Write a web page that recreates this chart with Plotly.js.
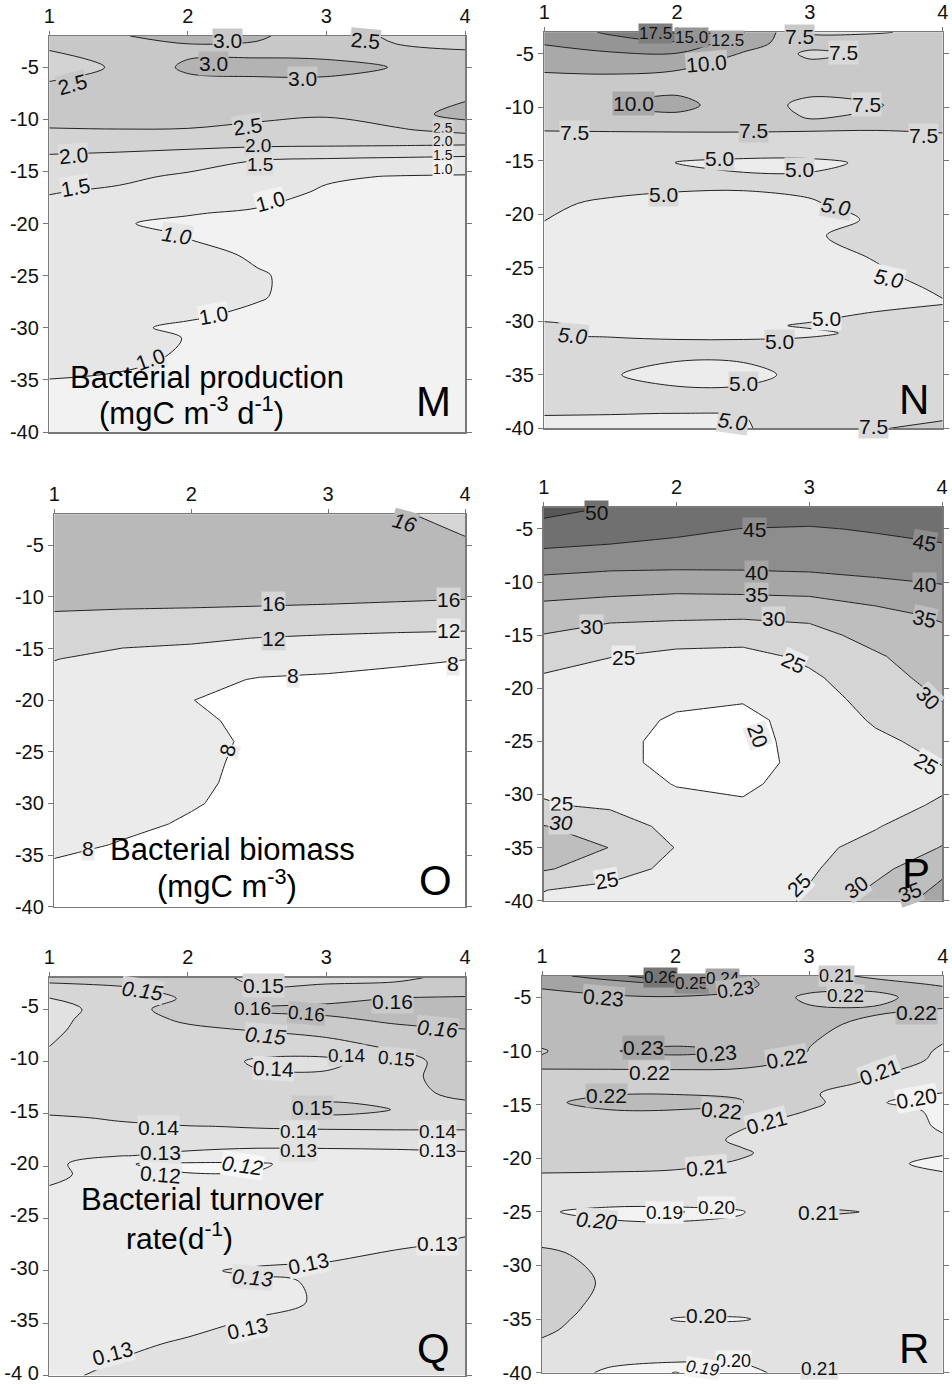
<!DOCTYPE html>
<html><head><meta charset="utf-8">
<script src="https://cdn.plot.ly/plotly-3.0.1.min.js"></script>
<style>html,body{margin:0;padding:0;background:#fff}</style>
</head><body><div id="chart" style="width:952px;height:1384px"></div>
<script>
// ---------------- data ----------------
const stations = [1, 1.5, 2, 2.5, 3, 3.5, 4];
const xTicks = [1, 2, 3, 4];
const depthTicks = [-5, -10, -15, -20, -25, -30, -35, -40];
const depthTickText = ['-5', '-10', '-15', '-20', '-25', '-30', '-35', '-40'];
const qDepthTickText = ['-5', '-10', '-15', '-20', '-25', '-30', '-35', '-4 0'];

// M: bacterial production (mgC m-3 d-1)
const mDepth = [-2, -3.5, -5, -6.5, -8, -9.5, -11, -12.5, -14, -15.5, -17, -19, -20, -21, -23, -25, -27, -29, -30, -31, -33, -35, -37.5, -40];
const mZ = [
  [2.75, 2.98, 3.10, 3.05, 2.80, 2.40, 2.35],
  [2.48, 2.70, 2.90, 2.90, 2.85, 2.60, 2.52],
  [2.30, 2.55, 3.10, 3.15, 3.15, 2.98, 2.70],
  [2.52, 2.65, 2.85, 2.90, 2.90, 2.80, 2.75],
  [2.70, 2.75, 2.80, 2.85, 2.85, 2.85, 2.95],
  [2.65, 2.70, 2.70, 2.60, 2.55, 2.75, 3.20],
  [2.48, 2.49, 2.48, 2.40, 2.30, 2.45, 2.65],
  [2.20, 2.15, 2.10, 2.05, 2.03, 2.01, 1.98],
  [1.85, 1.80, 1.70, 1.48, 1.40, 1.35, 1.30],
  [1.70, 1.60, 1.42, 1.25, 1.05, 0.98, 0.96],
  [1.52, 1.42, 1.30, 1.15, 0.95, 0.90, 0.88],
  [1.35, 1.25, 1.02, 0.95, 0.90, 0.85, 0.82],
  [1.30, 1.02, 0.94, 0.92, 0.88, 0.84, 0.80],
  [1.30, 1.15, 0.97, 0.95, 0.88, 0.84, 0.80],
  [1.28, 1.20, 1.10, 0.96, 0.90, 0.85, 0.80],
  [1.25, 1.20, 1.12, 1.025, 0.90, 0.85, 0.80],
  [1.22, 1.18, 1.10, 1.02, 0.90, 0.85, 0.80],
  [1.20, 1.12, 1.02, 0.95, 0.90, 0.85, 0.80],
  [1.20, 1.04, 0.96, 0.93, 0.89, 0.85, 0.80],
  [1.18, 1.10, 0.99, 0.95, 0.89, 0.85, 0.80],
  [1.12, 1.05, 0.97, 0.93, 0.88, 0.85, 0.80],
  [0.995, 0.97, 0.92, 0.90, 0.88, 0.85, 0.82],
  [0.90, 0.88, 0.86, 0.86, 0.85, 0.84, 0.82],
  [0.85, 0.84, 0.83, 0.83, 0.82, 0.82, 0.80]
];

// N
const nDepth = [-3, -4, -5, -6.5, -8, -9.8, -10.8, -11.5, -12.5, -14, -15.2, -16.3, -17.5, -19, -20.5, -22, -24, -25.5, -27, -28.3, -29.5, -30.4, -31.1, -32, -33, -35, -36.5, -38, -39.2, -40];
const nZ = [
  [13.0, 15.5, 17.8, 12.6, 7.3, 7.4, 7.8],
  [12.6, 13.5, 14.5, 11.0, 8.5, 8.2, 8.2],
  [12.0, 12.3, 12.4, 9.8, 7.0, 7.9, 8.5],
  [10.2, 10.3, 10.05, 9.0, 8.5, 8.5, 8.5],
  [9.0, 9.2, 9.2, 9.0, 8.2, 8.2, 8.2],
  [8.8, 9.95, 10.8, 8.5, 7.0, 7.4, 8.3],
  [8.4, 9.0, 9.6, 8.6, 7.3, 7.7, 8.1],
  [8.0, 8.2, 8.4, 8.2, 7.8, 7.9, 8.0],
  [7.3, 7.3, 7.3, 7.35, 7.4, 7.3, 7.45],
  [6.5, 6.3, 6.0, 5.8, 5.8, 6.0, 6.3],
  [6.2, 5.8, 4.95, 4.6, 4.6, 5.3, 5.8],
  [6.0, 5.8, 5.4, 5.1, 5.1, 5.5, 5.8],
  [5.8, 5.5, 5.15, 5.1, 5.2, 5.6, 6.0],
  [5.3, 4.7, 4.6, 4.6, 4.9, 5.4, 5.8],
  [5.02, 4.6, 4.5, 4.5, 4.7, 5.1, 5.6],
  [4.8, 4.5, 4.4, 4.4, 4.9, 5.3, 5.6],
  [4.8, 4.5, 4.4, 4.5, 4.7, 5.05, 5.5],
  [4.8, 4.5, 4.4, 4.5, 4.8, 4.9, 5.3],
  [4.8, 4.5, 4.4, 4.5, 4.6, 4.7, 5.1],
  [4.8, 4.5, 4.4, 4.5, 4.6, 4.7, 4.95],
  [4.85, 4.6, 4.5, 4.6, 4.8, 5.15, 5.4],
  [5.1, 4.8, 4.6, 4.8, 5.1, 5.3, 5.5],
  [5.05, 4.85, 4.8, 4.8, 4.85, 5.2, 5.4],
  [5.5, 5.2, 5.1, 5.1, 5.2, 5.5, 5.6],
  [5.6, 5.3, 5.3, 5.3, 5.3, 5.6, 5.8],
  [5.6, 5.1, 4.5, 4.6, 5.4, 5.7, 5.9],
  [5.5, 5.3, 5.2, 5.2, 5.4, 5.7, 6.0],
  [5.2, 5.15, 5.1, 5.1, 5.5, 6.5, 7.0],
  [4.9, 4.9, 4.9, 4.95, 5.6, 7.2, 7.45],
  [4.7, 4.7, 4.8, 4.9, 5.6, 7.4, 7.9]
];

// O: bacterial biomass (mgC m-3)
const oDepth = [-2, -4, -6, -8, -10, -12, -14, -16, -18, -20, -22, -24, -26, -28, -30, -32, -34, -36, -38, -40];
const oZ = [
  [20, 20, 20, 19.5, 18.5, 16.5, 14.5],
  [20, 20, 19.8, 19.5, 19, 18, 15.9],
  [20, 20, 19.5, 19.5, 19, 18.5, 17.5],
  [19, 19, 19, 18.8, 18.5, 18, 17.5],
  [17.2, 17.0, 16.9, 16.8, 16.6, 16.4, 16.2],
  [15.5, 15.3, 15.2, 15.0, 14.9, 14.7, 14.5],
  [13.0, 12.9, 12.6, 11.9, 11.4, 11.0, 10.7],
  [12.1, 11.0, 10.5, 9.6, 9.0, 8.4, 8.05],
  [11.0, 10.0, 8.8, 7.8, 7.6, 7.4, 7.0],
  [10.5, 9.5, 8.02, 7.6, 7.3, 7.0, 6.8],
  [10.2, 9.4, 8.3, 7.6, 7.2, 7.0, 6.8],
  [10.0, 9.3, 8.5, 7.7, 7.2, 7.0, 6.8],
  [9.8, 9.2, 8.3, 7.7, 7.2, 7.0, 6.8],
  [9.5, 9.0, 8.2, 7.7, 7.2, 7.0, 6.8],
  [9.2, 8.8, 8.1, 7.6, 7.2, 7.0, 6.8],
  [8.9, 8.3, 7.85, 7.5, 7.2, 7.0, 6.8],
  [8.4, 7.9, 7.6, 7.4, 7.2, 7.0, 6.8],
  [7.8, 7.6, 7.4, 7.3, 7.1, 7.0, 6.8],
  [7.5, 7.4, 7.3, 7.2, 7.1, 7.0, 6.8],
  [7.3, 7.3, 7.2, 7.1, 7.0, 6.9, 6.8]
];

// P
const pDepth = [-3, -5, -7, -9, -11, -13, -15, -17, -19, -21, -23, -25, -27, -29, -31, -33, -35, -37, -39, -40];
const pZ = [
  [51.5, 49.8, 48.5, 48.5, 48.5, 48.0, 47.5],
  [48.5, 47.5, 46.0, 44.9, 44.5, 45.5, 46.3],
  [44.7, 44.0, 43.5, 43.0, 42.8, 43.0, 44.3],
  [40.8, 39.9, 39.7, 39.8, 40.1, 41.0, 41.8],
  [36.0, 35.8, 35.2, 35.4, 35.8, 37.5, 38.8],
  [33.5, 31.5, 31.0, 30.8, 31.2, 33.5, 36.0],
  [29.8, 28.0, 27.8, 27.6, 28.5, 31.5, 33.5],
  [27.0, 25.1, 23.5, 23.0, 26.2, 29.5, 32.5],
  [24.5, 23.5, 22.0, 21.5, 24.0, 28.5, 31.3],
  [23.5, 22.5, 20.8, 20.3, 22.5, 27.0, 30.2],
  [23.0, 21.5, 19.5, 19.0, 21.5, 25.6, 28.5],
  [23.0, 21.0, 19.0, 18.5, 21.5, 24.0, 26.5],
  [23.5, 21.0, 19.0, 18.5, 21.2, 23.2, 25.1],
  [24.3, 22.0, 19.8, 19.2, 21.8, 23.5, 24.5],
  [25.3, 24.3, 21.2, 20.5, 22.3, 23.8, 25.4],
  [30.2, 27.5, 23.5, 21.5, 23.0, 24.7, 28.0],
  [33.0, 29.9, 24.8, 22.0, 23.8, 26.5, 30.2],
  [30.5, 27.5, 23.5, 21.5, 24.3, 28.5, 34.0],
  [25.1, 23.5, 22.0, 21.0, 25.3, 31.0, 36.0],
  [24.5, 24.0, 21.5, 20.8, 26.0, 32.0, 37.0]
];

// Q: bacterial turnover rate (d-1)
const qDepth = [-2, -3, -4, -5, -6, -7, -8.5, -10, -11.5, -13, -14.6, -15.4, -16.2, -17.2, -18.2, -19, -19.8, -20.8, -22, -24, -26, -27.5, -29, -30, -31, -33, -35, -37, -39, -40];
const qZ = [
  [0.152, 0.154, 0.156, 0.147, 0.147, 0.148, 0.153],
  [0.148, 0.149, 0.153, 0.1505, 0.152, 0.153, 0.156],
  [0.1395, 0.145, 0.151, 0.153, 0.1575, 0.1605, 0.161],
  [0.136, 0.1445, 0.156, 0.162, 0.1625, 0.163, 0.164],
  [0.137, 0.1455, 0.1515, 0.1555, 0.1585, 0.1615, 0.165],
  [0.138, 0.146, 0.148, 0.1505, 0.155, 0.158, 0.1595],
  [0.1398, 0.1455, 0.146, 0.1435, 0.1445, 0.153, 0.157],
  [0.1435, 0.1455, 0.1445, 0.139, 0.1383, 0.1435, 0.158],
  [0.145, 0.146, 0.146, 0.1412, 0.1412, 0.146, 0.156],
  [0.144, 0.145, 0.145, 0.145, 0.147, 0.148, 0.1515],
  [0.1415, 0.1425, 0.1445, 0.147, 0.1525, 0.1498, 0.148],
  [0.1392, 0.1405, 0.1425, 0.1445, 0.1485, 0.146, 0.145],
  [0.1385, 0.1392, 0.1398, 0.1403, 0.1408, 0.141, 0.141],
  [0.1372, 0.1375, 0.1378, 0.1385, 0.138, 0.138, 0.138],
  [0.1355, 0.134, 0.1315, 0.1305, 0.1305, 0.1305, 0.1305],
  [0.134, 0.1305, 0.128, 0.126, 0.127, 0.1285, 0.1295],
  [0.1335, 0.1205, 0.1185, 0.119, 0.1235, 0.127, 0.1285],
  [0.1315, 0.127, 0.1203, 0.1205, 0.1245, 0.1275, 0.1285],
  [0.1298, 0.1275, 0.1255, 0.1255, 0.1265, 0.128, 0.1285],
  [0.128, 0.127, 0.1265, 0.1265, 0.127, 0.1285, 0.129],
  [0.1275, 0.127, 0.1265, 0.127, 0.1275, 0.129, 0.1295],
  [0.1275, 0.127, 0.1268, 0.1275, 0.1285, 0.1295, 0.1305],
  [0.1275, 0.127, 0.127, 0.128, 0.1298, 0.131, 0.1315],
  [0.1275, 0.127, 0.1285, 0.1315, 0.131, 0.1315, 0.132],
  [0.1275, 0.127, 0.1275, 0.1285, 0.131, 0.1315, 0.132],
  [0.1275, 0.1275, 0.128, 0.1288, 0.1305, 0.131, 0.132],
  [0.1275, 0.128, 0.129, 0.1305, 0.1315, 0.132, 0.1325],
  [0.1278, 0.1292, 0.1305, 0.1315, 0.132, 0.1325, 0.133],
  [0.1285, 0.1303, 0.131, 0.132, 0.1325, 0.133, 0.1335],
  [0.129, 0.131, 0.1315, 0.132, 0.1325, 0.133, 0.1335]
];

// R
const rDepth = [-3, -3.8, -5, -6.2, -7.5, -9, -10, -10.8, -11.8, -13, -14, -14.8, -15.6, -17, -18.3, -19.5, -20.5, -21.5, -23, -24.5, -25, -26, -27.5, -29, -31.5, -34, -35, -36, -37.5, -39, -40];
const rZ = [
  [0.236, 0.245, 0.262, 0.231, 0.222, 0.219, 0.2185],
  [0.232, 0.234, 0.236, 0.232, 0.224, 0.222, 0.2195],
  [0.226, 0.229, 0.2295, 0.228, 0.218, 0.2185, 0.223],
  [0.2255, 0.2265, 0.227, 0.2265, 0.2215, 0.2208, 0.2195],
  [0.2245, 0.2255, 0.226, 0.225, 0.2215, 0.2185, 0.2175],
  [0.223, 0.2255, 0.227, 0.2255, 0.2205, 0.2165, 0.2105],
  [0.219, 0.2295, 0.2325, 0.2295, 0.2198, 0.2155, 0.209],
  [0.2215, 0.2245, 0.227, 0.2245, 0.2185, 0.2145, 0.2085],
  [0.2198, 0.2195, 0.2195, 0.219, 0.2175, 0.2115, 0.207],
  [0.2185, 0.2192, 0.2192, 0.2185, 0.2135, 0.2085, 0.2045],
  [0.2195, 0.2195, 0.2198, 0.2195, 0.211, 0.205, 0.1995],
  [0.2185, 0.2225, 0.2228, 0.2202, 0.213, 0.2005, 0.1975],
  [0.219, 0.2195, 0.2195, 0.2185, 0.2095, 0.2035, 0.1985],
  [0.2185, 0.219, 0.2165, 0.2105, 0.207, 0.2025, 0.1995],
  [0.218, 0.2185, 0.2145, 0.2085, 0.2055, 0.202, 0.2005],
  [0.2175, 0.218, 0.216, 0.211, 0.205, 0.202, 0.2005],
  [0.2135, 0.2135, 0.212, 0.209, 0.2045, 0.2015, 0.1985],
  [0.2095, 0.209, 0.2085, 0.2075, 0.204, 0.202, 0.2005],
  [0.207, 0.2065, 0.2065, 0.2065, 0.2055, 0.2045, 0.204],
  [0.2015, 0.2005, 0.201, 0.2015, 0.2085, 0.204, 0.203],
  [0.2015, 0.196, 0.1885, 0.1995, 0.2115, 0.2095, 0.203],
  [0.2025, 0.2015, 0.2012, 0.2015, 0.2055, 0.204, 0.2035],
  [0.207, 0.2055, 0.204, 0.204, 0.2045, 0.204, 0.204],
  [0.2125, 0.2065, 0.2045, 0.2045, 0.2045, 0.204, 0.204],
  [0.216, 0.2085, 0.205, 0.2045, 0.2045, 0.204, 0.204],
  [0.2135, 0.2075, 0.2035, 0.2025, 0.204, 0.204, 0.204],
  [0.213, 0.206, 0.1995, 0.1995, 0.2035, 0.204, 0.204],
  [0.2115, 0.2055, 0.2025, 0.2025, 0.2035, 0.204, 0.204],
  [0.2085, 0.2045, 0.2015, 0.2015, 0.203, 0.2035, 0.204],
  [0.2065, 0.2015, 0.2002, 0.2003, 0.2025, 0.203, 0.2035],
  [0.2055, 0.1985, 0.1895, 0.1985, 0.2025, 0.2035, 0.2045]
];

// contour label texts: [text, px, py, angle, band, size]
const mLabels = [
  ['3.0', 227, 40, 0, 4], ['2.5', 365, 40, 5, 4], ['2.5', 72, 85, -15, 4],
  ['3.0', 213, 63, 0, 5], ['3.0', 302, 79, 0, 4], ['2.5', 247, 126, -8, 3],
  ['2.0', 258, 145, 0, 3, 19], ['2.0', 73, 155, -5, 2], ['1.5', 260, 165, 0, 2, 19],
  ['1.5', 75, 187, -10, 1], ['1.0', 270, 202, -15, 0], ['<i>1.0</i>', 177, 235, 8, 1],
  ['1.0', 213, 315, -10, 0], ['1.0', 150, 360, -20, 1],
  ['2.5', 443, 128, 0, 3, 14], ['2.0', 443, 141, 0, 2, 14], ['1.5', 443, 155, 0, 1, 14], ['1.0', 443, 169, 0, 0, 14]
];
const nLabels = [
  ['17.5', 655, 34, 0, 5, 17], ['15.0', 691, 38, 0, 4, 17], ['12.5', 727, 40, 0, 3, 17],
  ['10.0', 706, 63, -5, 2], ['7.5', 799, 36, 0, 2], ['7.5', 843, 53, 0, 1],
  ['10.0', 633, 103, 0, 3], ['7.5', 866, 104, 0, 1], ['7.5', 574, 133, 0, 1],
  ['7.5', 753, 130, 0, 2], ['7.5', 923, 135, 0, 1], ['5.0', 719, 159, 0, 1],
  ['5.0', 799, 170, 0, 1], ['5.0', 663, 195, 0, 1], ['<i>5.0</i>', 836, 207, 10, 1],
  ['<i>5.0</i>', 889, 278, 12, 0], ['5.0', 826, 318, 0, 0], ['<i>5.0</i>', 573, 335, 5, 1],
  ['5.0', 779, 342, 0, 1], ['5.0', 743, 383, 0, 1], ['<i>5.0</i>', 733, 421, 8, 1],
  ['7.5', 873, 427, 0, 1]
];
const oLabels = [
  ['<i>16</i>', 405, 522, 15, 3], ['16', 273, 603, 0, 2], ['16', 448, 600, 0, 2],
  ['12', 273, 638, 0, 2], ['12', 448, 630, 0, 1], ['8', 293, 675, 0, 1],
  ['8', 453, 663, 0, 1], ['8', 227, 750, -75, 1], ['8', 88, 848, 0, 1]
];
const pLabels = [
  ['50', 596, 512, 0, 6], ['45', 754, 529, 0, 5], ['45', 924, 542, 10, 5],
  ['40', 756, 572, 0, 4], ['40', 924, 585, 0, 4], ['35', 756, 594, 0, 3],
  ['35', 924, 618, 12, 3], ['30', 591, 627, 0, 2], ['30', 773, 618, 0, 2],
  ['30', 928, 697, 45, 2], ['25', 623, 657, 0, 1], ['25', 793, 662, 25, 1],
  ['20', 758, 735, 70, 1], ['25', 926, 763, 30, 1], ['25', 561, 803, 0, 1],
  ['<i>30</i>', 561, 822, 0, 2], ['25', 606, 880, -10, 1], ['25', 798, 885, -45, 1],
  ['30', 856, 888, -35, 2], ['35', 909, 892, -20, 3]
];
const qLabels = [
  ['<i>0.15</i>', 142, 990, 8, 3], ['0.15', 263, 985, 0, 3], ['0.16', 252, 1008, 0, 4, 19],
  ['0.16', 306, 1014, 5, 5, 19], ['0.16', 392, 1001, 0, 4], ['<i>0.16</i>', 437, 1028, 5, 4],
  ['<i>0.15</i>', 265, 1035, 5, 3], ['0.14', 346, 1055, 0, 3, 19], ['0.15', 396, 1058, 5, 3, 19],
  ['0.14', 273, 1068, 3, 2], ['0.15', 312, 1107, 0, 4], ['0.14', 158, 1127, 0, 2],
  ['0.14', 298, 1131, 0, 2, 19], ['0.14', 437, 1131, 0, 2, 19], ['0.13', 160, 1152, 0, 2],
  ['0.13', 298, 1150, 0, 2, 19], ['0.13', 437, 1150, 0, 1, 19], ['<i>0.12</i>', 243, 1165, 8, 0],
  ['0.12', 160, 1174, 5, 1], ['0.13', 437, 1243, 0, 1], ['0.13', 308, 1263, -12, 1],
  ['<i>0.13</i>', 252, 1277, 5, 2], ['0.13', 247, 1328, -12, 1], ['0.13', 112, 1353, -15, 1]
];
const rLabels = [
  ['0.26', 660, 977, 0, 7, 17], ['0.25', 691, 983, 0, 6, 17], ['0.24', 722, 978, 0, 5, 17],
  ['0.23', 735, 989, -8, 4, 19], ['0.23', 603, 997, 5, 4], ['0.21', 836, 976, 0, 3, 18],
  ['0.22', 845, 995, 0, 3, 19], ['0.22', 916, 1012, 0, 4], ['0.23', 643, 1047, 0, 5],
  ['0.23', 716, 1053, -5, 4], ['0.22', 649, 1072, 0, 3], ['0.22', 786, 1058, -10, 3],
  ['0.21', 879, 1072, -20, 2], ['0.22', 606, 1095, 0, 4], ['0.22', 721, 1110, 5, 3],
  ['0.20', 916, 1098, -10, 1], ['0.21', 766, 1122, -15, 2], ['0.21', 706, 1167, -5, 2],
  ['<i>0.20</i>', 596, 1220, 5, 2], ['0.19', 664, 1212, 0, 1, 19], ['0.20', 716, 1207, 0, 1, 19],
  ['0.21', 818, 1212, 0, 2], ['0.20', 706, 1315, 0, 2], ['0.20', 733, 1361, 0, 1, 18],
  ['<i>0.19</i>', 703, 1368, 8, 1, 17], ['0.21', 819, 1368, 0, 2, 19]
];

// ---------------- drawing ----------------
const FONT = 'Liberation Sans, Arial, Helvetica, sans-serif';
const W = 952, H = 1384;

function panel(z, depth, n, levels, greys, smooth) {
  const k = greys.length - 1;
  return {
    type: 'contour', x: stations, y: depth, z: z,
    xaxis: 'x' + (n === 1 ? '' : n), yaxis: 'y' + (n === 1 ? '' : n),
    autocontour: false,
    contours: { start: levels[0], end: levels[1], size: levels[2], coloring: 'fill', showlabels: false },
    colorscale: greys.map((c, i) => [i / k, c]),
    line: { color: '#222', width: 1, smoothing: smooth },
    showscale: false, hoverinfo: 'skip'
  };
}

function box(l, r, t, b) {
  return { x: [l / W, r / W], y: [1 - b / H, 1 - t / H] };
}

function axes(n, bx, top, ytext, shift) {
  const s = n === 1 ? '' : n;
  const lay = {};
  lay['xaxis' + s] = {
    domain: bx.x, anchor: 'y' + s, side: 'top', range: [1, 4],
    tickvals: xTicks, ticks: 'outside', ticklen: 4, tickcolor: '#777',
    showline: true, linecolor: '#7a7a7a', linewidth: 1.5, mirror: true,
    showgrid: false, zeroline: false, automargin: false, fixedrange: true,
    ticklabeloverflow: 'allow',
    tickfont: { family: FONT, size: 20, color: '#111' }
  };
  lay['yaxis' + s] = {
    domain: bx.y, anchor: 'x' + s, range: [-40, top],
    tickvals: depthTicks, ticktext: ytext, ticks: 'outside', ticklen: 5, tickcolor: '#777',
    showline: true, linecolor: '#7a7a7a', linewidth: 1.5, mirror: 'ticks',
    showgrid: false, zeroline: false, automargin: false, fixedrange: true,
    ticklabeloverflow: 'allow', ticklabelshift: shift || 0,
    tickfont: { family: FONT, size: 20, color: '#111' }
  };
  return lay;
}

function note(text, px, py, size) {
  return { xref: 'paper', yref: 'paper', x: px / W, y: 1 - py / H,
    xanchor: 'center', yanchor: 'middle', text: text, showarrow: false,
    font: { family: FONT, size: size, color: '#000' } };
}

function labelNotes(list, greys) {
  return list.map(l => Object.assign(note(l[0], l[1], l[2], l[5] || 21), {
    textangle: l[3], bgcolor: greys[l[4]], borderpad: 0,
    font: { family: FONT, size: l[5] || 21, color: '#111' }
  }));
}

const greysM = ['#f2f2f2', '#e6e6e6', '#dddddd', '#d3d3d3', '#c8c8c8', '#b3b3b3'];
const greysN = ['#ececec', '#d9d9d9', '#c9c9c9', '#a9a9a9', '#959595', '#7e7e7e', '#676767'];
const greysO = ['#ffffff', '#ebebeb', '#d5d5d5', '#b9b9b9'];
const greysP = ['#ffffff', '#ececec', '#d5d5d5', '#bebebe', '#a6a6a6', '#8d8d8d', '#707070', '#575757'];
const greysQ = ['#f7f7f7', '#ebebeb', '#e1e1e1', '#d6d6d6', '#cacaca', '#bbbbbb'];
const greysR = ['#ffffff', '#f3f3f3', '#e2e2e2', '#cfcfcf', '#bbbbbb', '#a4a4a4', '#8d8d8d', '#767676', '#5f5f5f'];

const traces = [
  panel(mZ, mDepth, 1, [1.0, 3.0, 0.5], greysM, 1),
  panel(nZ, nDepth, 2, [5.0, 17.5, 2.5], greysN, 1),
  panel(oZ, oDepth, 3, [8, 16, 4], greysO, 0),
  panel(pZ, pDepth, 4, [20, 50, 5], greysP, 0),
  panel(qZ, qDepth, 5, [0.12, 0.16, 0.01], greysQ, 1),
  panel(rZ, rDepth, 6, [0.19, 0.26, 0.01], greysR, 1)
];

const annotations = [].concat(
  labelNotes(mLabels, greysM), labelNotes(nLabels, greysN), labelNotes(oLabels, greysO),
  labelNotes(pLabels, greysP), labelNotes(qLabels, greysQ), labelNotes(rLabels, greysR),
  [
    note('Bacterial production', 207, 377, 31),
    note('(mgC m<sup>-3</sup> d<sup>-1</sup>)', 191, 411, 31),
    note('M', 433, 401, 42),
    note('N', 914, 400, 42),
    note('Bacterial biomass', 232, 849, 31),
    note('(mgC m<sup>-3</sup>)', 227, 884, 31),
    note('O', 435, 880, 42),
    note('P', 916, 873, 42),
    note('Bacterial turnover', 202, 1199, 31),
    note('rate(d<sup>-1</sup>)', 179, 1236, 30),
    note('Q', 433, 1348, 42),
    note('R', 914, 1348, 42)
  ]
);

const layout = Object.assign(
  { width: W, height: H, margin: { l: 0, r: 0, t: 0, b: 0 },
    paper_bgcolor: '#ffffff', plot_bgcolor: '#ffffff', showlegend: false,
    annotations: annotations },
  axes(1, box(49.3, 465, 36, 432), -2, depthTickText),
  axes(2, box(544.3, 942.7, 32.3, 428.3), -3, depthTickText),
  axes(3, box(54.3, 465, 514.3, 906.7), -2, depthTickText),
  axes(4, box(543.7, 942, 507.7, 900.7), -3, depthTickText),
  axes(5, box(49.3, 465, 977.7, 1375.5), -2, qDepthTickText, -3),
  axes(6, box(542, 942.7, 976, 1372.7), -3, depthTickText)
);

Plotly.newPlot('chart', traces, layout, { displayModeBar: false, staticPlot: true });
</script>
</body></html>
